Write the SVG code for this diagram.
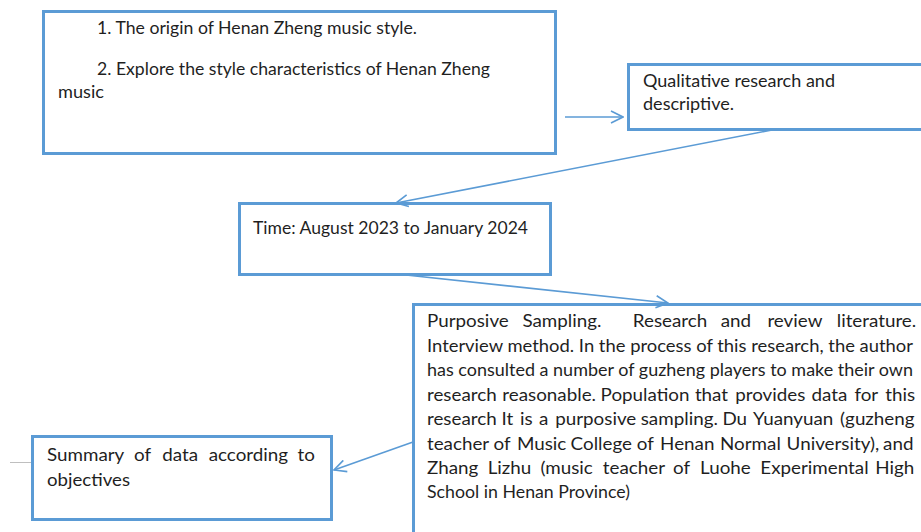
<svg xmlns="http://www.w3.org/2000/svg" width="921" height="532" viewBox="0 0 921 532">
<style>
.box{fill:#ffffff;stroke:#5B9BD5;stroke-width:3}
.con{fill:none;stroke:#5B9BD5;stroke-width:1.6}
.t{font-family:Lato,"Open Sans","Liberation Sans",sans-serif;font-size:16.5px;fill:#1f1f1f}
.mark{fill:none;stroke:#bfbfbf;stroke-width:1}
</style>
<defs>
<marker id="arr" viewBox="0 0 14 14" refX="13" refY="7" markerWidth="14" markerHeight="14" markerUnits="userSpaceOnUse" orient="auto">
<path d="M1,1 L13,7 L1,13" fill="none" stroke="#5B9BD5" stroke-width="1.6"/>
</marker>
</defs>
<rect width="921" height="532" fill="#ffffff"/>
<g id="marks">
<path class="mark" d="M10,462.5 H42.5 V492"/>
<path class="mark" d="M921,463.5 H900.5 V492"/>
</g>
<g id="node-objectives">
<rect class="box" x="43.5" y="11.5" width="512" height="142"/>
<text class="t" x="97" y="34" textLength="320" lengthAdjust="spacingAndGlyphs">1. The origin of Henan Zheng music style.</text>
<text class="t" x="97" y="75" textLength="393" lengthAdjust="spacingAndGlyphs">2. Explore the style characteristics of Henan Zheng</text>
<text class="t" x="58" y="98" textLength="46" lengthAdjust="spacingAndGlyphs">music</text>
</g>
<g id="node-qualitative">
<rect class="box" x="628.5" y="64.5" width="320" height="65"/>
<text class="t" x="643" y="87" textLength="192" lengthAdjust="spacingAndGlyphs">Qualitative research and</text>
<text class="t" x="643" y="110" textLength="91" lengthAdjust="spacingAndGlyphs">descriptive.</text>
</g>
<g id="node-time">
<rect class="box" x="239.5" y="203.5" width="311" height="71"/>
<text class="t" x="253" y="234" textLength="275" lengthAdjust="spacingAndGlyphs">Time: August 2023 to January 2024</text>
</g>
<g id="node-methods">
<rect class="box" x="413.5" y="304.5" width="540" height="260"/>
<text class="t" y="327" transform="scale(1.14 1)"><tspan x="374.56">Purposive</tspan> <tspan x="458.25">Sampling.</tspan> <tspan x="555.09">Research</tspan> <tspan x="632.19">and</tspan> <tspan x="673.16">review</tspan> <tspan x="733.95">literature.</tspan></text>
<text class="t" x="427" y="352" textLength="486" lengthAdjust="spacingAndGlyphs">Interview method. In the process of this research, the author</text>
<text class="t" x="427" y="376" textLength="486" lengthAdjust="spacingAndGlyphs">has consulted a number of guzheng players to make their own</text>
<text class="t" y="401" transform="scale(1.14 1)"><tspan x="374.56">research</tspan> <tspan x="440.61">reasonable.</tspan> <tspan x="526.84">Population</tspan> <tspan x="609.56">that</tspan> <tspan x="644.91">provides</tspan> <tspan x="711.84">data</tspan> <tspan x="749.47">for</tspan> <tspan x="776.58">this</tspan></text>
<text class="t" y="425" transform="scale(1.14 1)"><tspan x="374.56">research</tspan> <tspan x="439.82">It</tspan> <tspan x="456.05">is</tspan> <tspan x="472.81">a</tspan> <tspan x="487.02">purposive</tspan> <tspan x="562.02">sampling.</tspan> <tspan x="633.68">Du</tspan> <tspan x="660.61">Yuanyuan</tspan> <tspan x="736.93">(guzheng</tspan></text>
<text class="t" y="450" transform="scale(1.14 1)"><tspan x="374.56">teacher</tspan> <tspan x="432.89">of</tspan> <tspan x="453.42">Music</tspan> <tspan x="500.53">College</tspan> <tspan x="558.51">of</tspan> <tspan x="579.04">Henan</tspan> <tspan x="631.58">Normal</tspan> <tspan x="690">University),</tspan> <tspan x="774.65">and</tspan></text>
<text class="t" y="474" transform="scale(1.14 1)"><tspan x="374.56">Zhang</tspan> <tspan x="427.81">Lizhu</tspan> <tspan x="474.04">(music</tspan> <tspan x="528.77">teacher</tspan> <tspan x="590.35">of</tspan> <tspan x="614.12">Luohe</tspan> <tspan x="666.93">Experimental</tspan> <tspan x="767.72">High</tspan></text>
<text class="t" x="427" y="498" textLength="203" lengthAdjust="spacingAndGlyphs">School in Henan Province)</text>
</g>
<g id="node-summary">
<rect class="box" x="32.5" y="436.5" width="299" height="83"/>
<text class="t" y="461" transform="scale(1.14 1)"><tspan x="41.23">Summary</tspan> <tspan x="117.63">of</tspan> <tspan x="142.28">data</tspan> <tspan x="183.07">according</tspan> <tspan x="260.96">to</tspan></text>
<text class="t" x="47" y="486" textLength="83" lengthAdjust="spacingAndGlyphs">objectives</text>
</g>
<g id="connectors">
<line class="con" x1="565" y1="117" x2="623" y2="117" marker-end="url(#arr)"/>
<line class="con" x1="772" y1="130" x2="396" y2="203" marker-end="url(#arr)"/>
<line class="con" x1="406" y1="275" x2="668" y2="303" marker-end="url(#arr)"/>
<line class="con" x1="413" y1="442" x2="334" y2="470" marker-end="url(#arr)"/>
</g>
</svg>
